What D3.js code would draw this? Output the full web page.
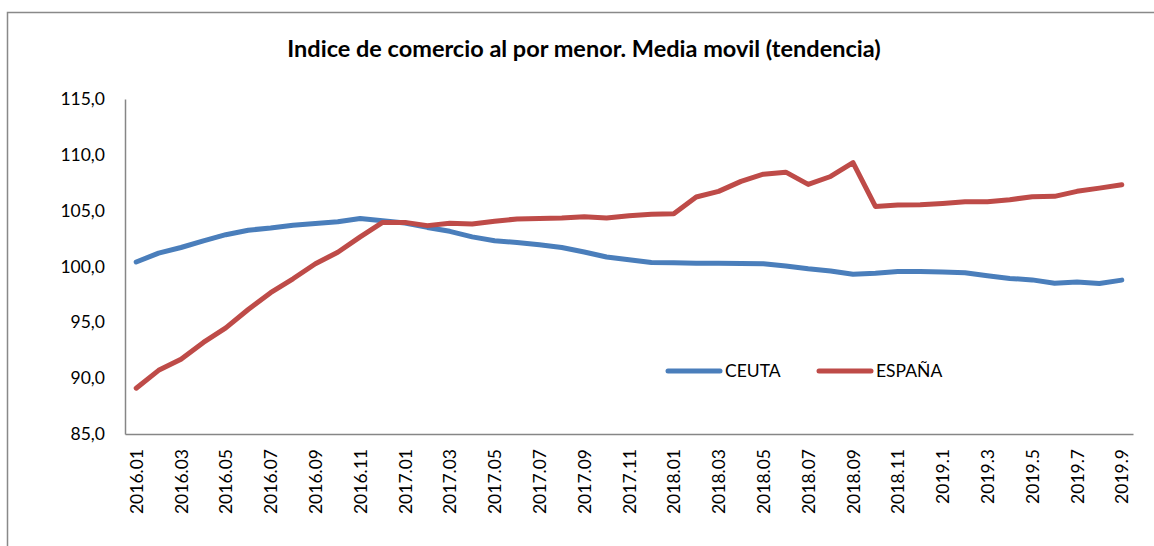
<!DOCTYPE html>
<html lang="es">
<head>
<meta charset="UTF-8">
<title>Indice de comercio al por menor</title>
<script src="https://cdn.jsdelivr.net/npm/d3@7"></script>
<style>
    body { margin: 0; background: #fff; }
    text { font-family: Lato, "Open Sans", sans-serif; fill: #000; }
</style>
</head>
<body>
<script>
    // meses (etiquetas del eje x)
    var meses = [
        "2016.01","2016.02","2016.03","2016.04","2016.05","2016.06","2016.07","2016.08","2016.09","2016.10","2016.11","2016.12",
        "2017.01","2017.02","2017.03","2017.04","2017.05","2017.06","2017.07","2017.08","2017.09","2017.10","2017.11","2017.12",
        "2018.01","2018.02","2018.03","2018.04","2018.05","2018.06","2018.07","2018.08","2018.09","2018.10","2018.11","2018.12",
        "2019.1","2019.2","2019.3","2019.4","2019.5","2019.6","2019.7","2019.8","2019.9"];

    var ceuta = [100.4,101.2,101.7,102.3,102.85,103.25,103.45,103.7,103.85,104.0,104.3,104.1,
                 103.9,103.5,103.15,102.65,102.3,102.15,101.95,101.7,101.3,100.85,100.6,100.35,
                 100.33,100.3,100.28,100.26,100.25,100.05,99.8,99.6,99.3,99.4,99.55,99.55,
                 99.5,99.44,99.17,98.93,98.8,98.5,98.62,98.48,98.78];

    var espana = [89.1,90.7,91.7,93.2,94.5,96.15,97.65,98.9,100.25,101.28,102.65,103.95,
                  103.95,103.66,103.88,103.8,104.05,104.26,104.29,104.35,104.46,104.35,104.55,104.67,
                  104.73,106.22,106.73,107.62,108.27,108.45,107.35,108.06,109.3,105.38,105.5,105.54,
                  105.65,105.8,105.8,105.98,106.25,106.28,106.73,107.02,107.32];

    var yTicks = [85,90,95,100,105,110,115];

    var width = 1154, height = 546;
    var margin = {left: 125, right: 21, top: 99, bottom: 112};

    var svg = d3.select("body").append("svg")
        .attr("width", width)
        .attr("height", height);

    // marco exterior
    svg.append("rect")
        .attr("x", 7.5).attr("y", 12.5)
        .attr("width", 1200).attr("height", 600)
        .attr("fill", "none")
        .attr("stroke", "#898989")
        .attr("stroke-width", 1.5);

    var x = d3.scalePoint()
        .domain(meses)
        .range([margin.left, width - margin.right])
        .padding(0.5);

    var y = d3.scaleLinear()
        .domain([85, 115])
        .range([height - margin.bottom, margin.top]);

    // titulo
    svg.append("text")
        .attr("x", 584)
        .attr("y", 57)
        .attr("text-anchor", "middle")
        .attr("font-weight", "bold")
        .attr("font-size", "23.5px")
        .text("Indice de comercio al por menor. Media movil (tendencia)");

    // eje y
    var yAxis = svg.append("g")
        .attr("transform", `translate(${margin.left},0)`)
        .call(d3.axisLeft(y).tickValues(yTicks).tickSize(0).tickPadding(20)
            .tickFormat(d => d3.format(".1f")(d).replace(".", ",")));
    yAxis.select(".domain").attr("stroke", "#868686").attr("stroke-width", 1.5);
    yAxis.selectAll("text").attr("font-size", "17.5px").attr("fill", "#000");

    // eje x
    var xAxis = svg.append("g")
        .attr("transform", `translate(0,${height - margin.bottom})`)
        .call(d3.axisBottom(x).tickSize(0)
            .tickValues(meses.filter((d, i) => i % 2 == 0)));
    xAxis.select(".domain").attr("stroke", "#868686").attr("stroke-width", 1.5);
    xAxis.selectAll("text")
        .attr("font-size", "17.5px")
        .attr("fill", "#000")
        .attr("text-anchor", "end")
        .attr("transform", "rotate(-90)")
        .attr("x", -15)
        .attr("y", 0)
        .attr("dy", "0.35em");

    var line = d3.line()
        .x((d, i) => x(meses[i]))
        .y(d => y(d));

    var series = [
        {name: "CEUTA", values: ceuta, color: "#4a7ebb"},
        {name: "ESPAÑA", values: espana, color: "#be4b48"}
    ];

    svg.selectAll(".serie")
        .data(series)
        .enter()
        .append("path")
        .attr("class", "serie")
        .attr("fill", "none")
        .attr("stroke", d => d.color)
        .attr("stroke-width", 5)
        .attr("stroke-linejoin", "round")
        .attr("stroke-linecap", "round")
        .attr("d", d => line(d.values));

    // leyenda
    var legend = svg.selectAll(".leg")
        .data(series)
        .enter()
        .append("g")
        .attr("class", "leg")
        .attr("transform", (d, i) => `translate(${668 + i * 151},371)`);
    legend.append("line")
        .attr("x1", 0).attr("x2", 52)
        .attr("stroke", d => d.color)
        .attr("stroke-width", 5)
        .attr("stroke-linecap", "round");
    legend.append("text")
        .attr("x", 57)
        .attr("dy", "0.35em")
        .attr("font-size", "17.5px")
        .text(d => d.name);
</script>
</body>
</html>
